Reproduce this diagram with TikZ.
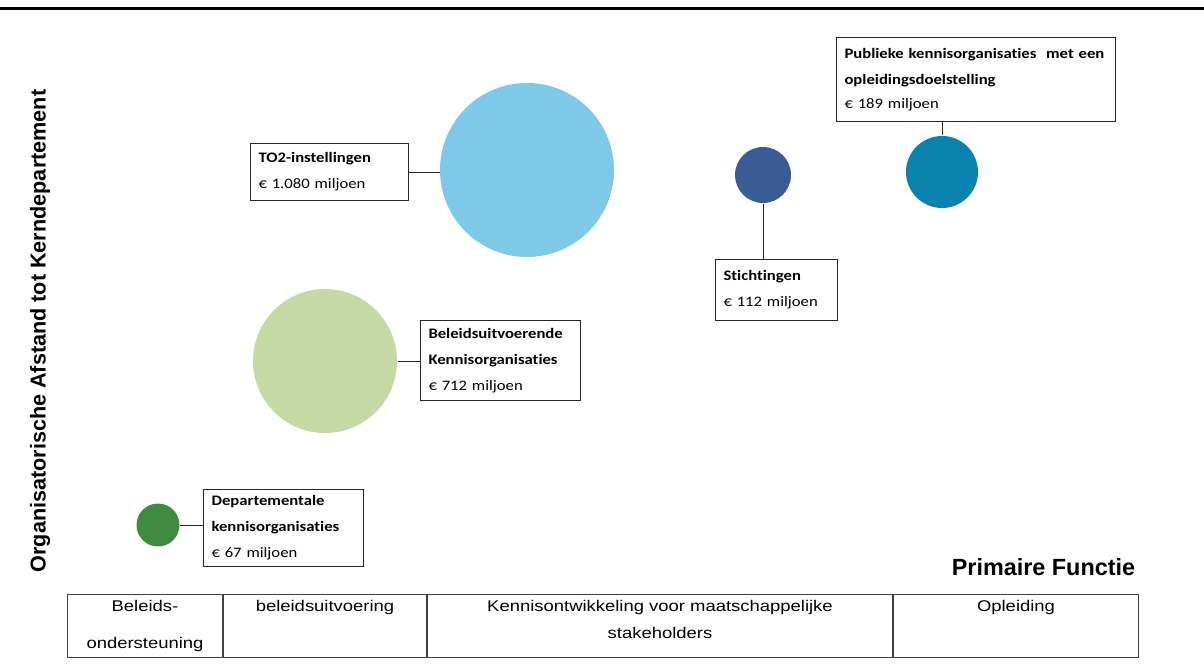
\documentclass[tikz,border=0pt]{standalone}
\usepackage{fontspec}
\setmainfont{Carlito}[FakeStretch=1.15, Ligatures=NoCommon]
\newfontfamily\axisfont{Liberation Sans}
\newfontfamily\tablefont{Liberation Sans}[FakeStretch=1.19]
\usepackage{tikz}
\usetikzlibrary{positioning}
\definecolor{colorTO}{HTML}{7EC8E8}
\definecolor{colorST}{HTML}{3B5B94}
\definecolor{colorPK}{HTML}{0A82AE}
\definecolor{colorBU}{HTML}{C4D9A4}
\definecolor{colorDK}{HTML}{3F8B3F}
\tikzset{
  bubble/.style={circle, inner sep=0pt},
  infobox/.style={draw=black!85, fill=white, anchor=north west, align=left, inner xsep=8pt, inner ysep=0pt, font=\fontsize{14.5}{26}\selectfont},
  cell/.style={draw=black!75, inner sep=0pt, minimum height=63pt},
  celltext/.style={font=\tablefont\fontsize{15.5}{27}\selectfont, align=center, inner sep=0pt}
}

\begin{document}
\begin{tikzpicture}[x=1pt, y=-1pt, line width=1pt]
\useasboundingbox (0,0) rectangle (1204,666);
\draw[line width=3pt] (0,9) -- (1204,9);

% bubbles
\node[bubble, fill=colorTO, minimum size=174pt] (cTO) at (527,170) {};
\node[bubble, fill=colorST, minimum size=56pt] (cST) at (763,175) {};
\node[bubble, fill=colorPK, minimum size=72pt] (cPK) at (942,172) {};
\node[bubble, fill=colorBU, minimum size=144pt] (cBU) at (325,361) {};
\node[bubble, fill=colorDK, minimum size=43pt] (cDK) at (158,525) {};

% labels
\node[infobox, text width=142pt, minimum height=57pt] (bTO) at (250,143) {\textbf{TO2-instellingen}\\€ 1.080 miljoen};
\node[infobox, text width=106pt, minimum height=61pt] (bST) at (715,259) {\textbf{Stichtingen}\\€ 112 miljoen};
\node[infobox, text width=263pt, minimum height=84pt] (bPK) at (836,37) {\textbf{Publieke kennisorganisaties\ \ met een}\\\textbf{opleidingsdoelstelling}\\[-2pt]€ 189 miljoen};
\node[infobox, text width=144pt, minimum height=80pt] (bBU) at (420,320) {\textbf{Beleidsuitvoerende}\\\textbf{Kennisorganisaties}\\€ 712 miljoen};
\node[infobox, text width=144pt, minimum height=77pt] (bDK) at (203,489) {\textbf{Departementale}\\\textbf{kennisorganisaties}\\€ 67 miljoen};

\draw[black!85] (bTO.east) -- (bTO.east -| cTO.west);
\draw[black!85] (cST.south) -- (cST.south |- bST.north);
\draw[black!85] (cPK.north) -- (cPK.north |- bPK.south);
\draw[black!85] (cBU.east) -- (cBU.east -| bBU.west);
\draw[black!85] (cDK.east) -- (cDK.east -| bDK.west);

% axes
\node[rotate=90, font=\axisfont\bfseries\fontsize{21.6}{25}\selectfont] (yaxis) at (40,331) {Organisatorische Afstand tot Kerndepartement};
\node[anchor=east, font=\axisfont\bfseries\fontsize{23.4}{27}\selectfont] (xaxis) at (1139,567) {Primaire Functie};

% table
\node[cell, minimum width=155pt, anchor=north west] (t1) at (67,594) {};
\node[cell, minimum width=203pt, right=0pt of t1] (t2) {};
\node[cell, minimum width=465pt, right=0pt of t2] (t3) {};
\node[cell, minimum width=245pt, right=0pt of t3] (t4) {};
\node[celltext, below=6pt of t1.north] (l1) {Beleids-\\[10pt]ondersteuning};
\node[celltext, below=6pt of t2.north] (l2) {beleidsuitvoering};
\node[celltext, below=6pt of t3.north] (l3) {Kennisontwikkeling voor maatschappelijke\\stakeholders};
\node[celltext, below=6pt of t4.north] (l4) {Opleiding};
\end{tikzpicture}
\end{document}
